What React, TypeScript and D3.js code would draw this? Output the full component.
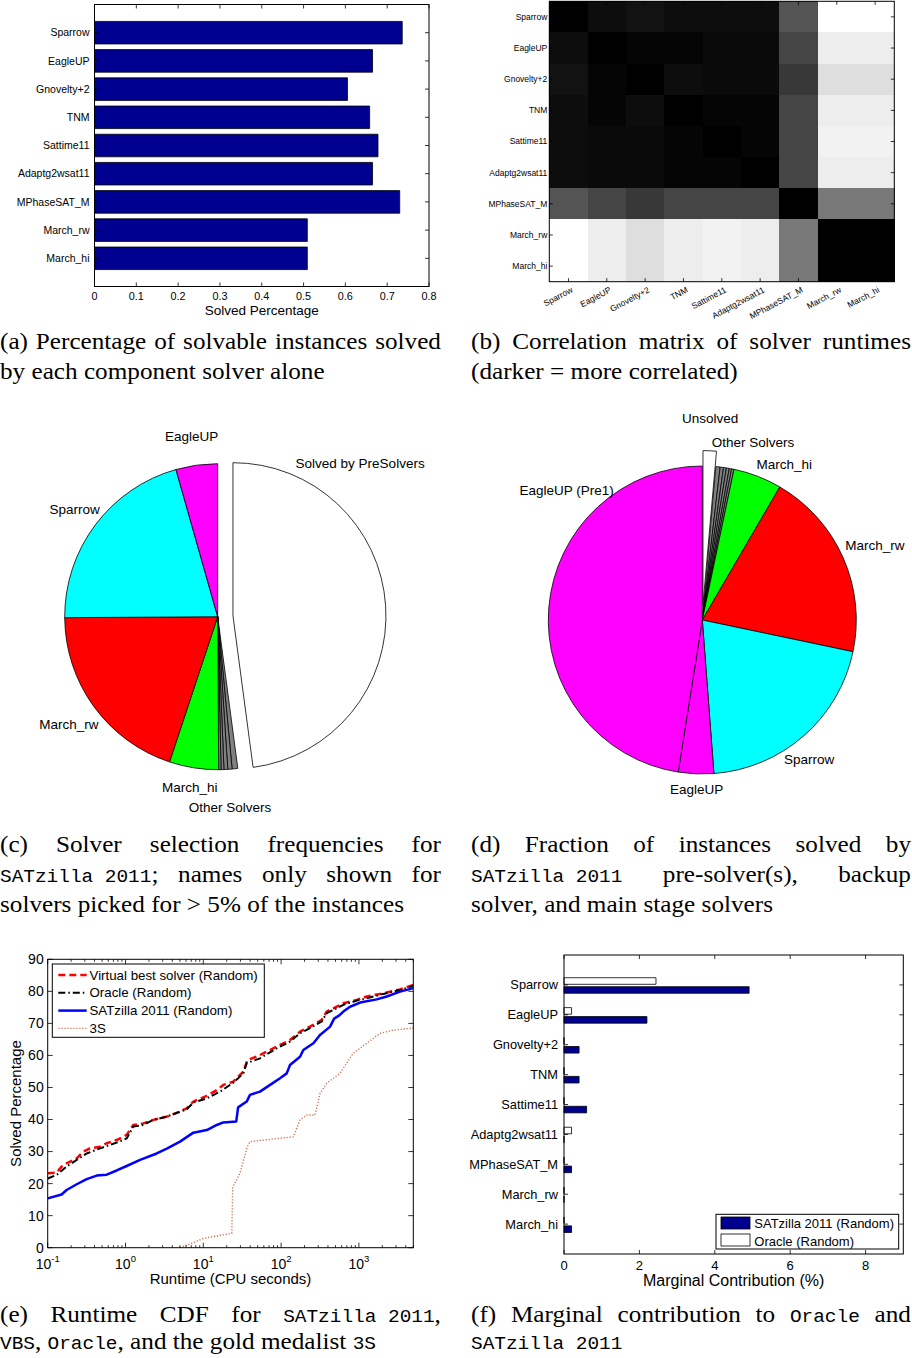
import React from "react";
import * as d3 from "d3";

// ---------------- data ----------------
const solvers = [
  "Sparrow", "EagleUP", "Gnovelty+2", "TNM", "Sattime11",
  "Adaptg2wsat11", "MPhaseSAT_M", "March_rw", "March_hi",
];

// (a) fraction of solvable instances solved by each solver on its own
const soloSolved = [0.736, 0.665, 0.605, 0.658, 0.678, 0.665, 0.73, 0.509, 0.509];
const soloTicks = [0, 0.1, 0.2, 0.3, 0.4, 0.5, 0.6, 0.7, 0.8];

// (b) pairwise correlation of solver runtimes (row/column order = solvers)
const runtimeCorr = [
  [1.0, 0.95, 0.93, 0.95, 0.95, 0.95, 0.67, 0.0, 0.0],
  [0.95, 1.0, 0.98, 0.98, 0.96, 0.96, 0.73, 0.07, 0.07],
  [0.93, 0.98, 1.0, 0.95, 0.96, 0.96, 0.78, 0.13, 0.13],
  [0.95, 0.98, 0.95, 1.0, 0.98, 0.98, 0.73, 0.07, 0.07],
  [0.95, 0.96, 0.96, 0.98, 1.0, 0.98, 0.73, 0.05, 0.05],
  [0.95, 0.96, 0.96, 0.98, 0.98, 1.0, 0.73, 0.07, 0.07],
  [0.67, 0.73, 0.78, 0.73, 0.73, 0.73, 1.0, 0.53, 0.53],
  [0.0, 0.07, 0.13, 0.07, 0.05, 0.07, 0.53, 1.0, 1.0],
  [0.0, 0.07, 0.13, 0.07, 0.05, 0.07, 0.53, 1.0, 1.0],
];

// (c) selection frequencies (% of instances), clockwise from 12 o'clock
const presolvedShare = 47.9;
const otherSharesC = [0.6, 0.45, 0.4, 0.3, 0.25];
const namedSolversC = ["March_hi", "March_rw", "Sparrow", "EagleUP"];
const namedSharesC = [5.2, 19.8, 20.7, 4.4];

// (d) fraction of instances solved by each stage (%), clockwise from 12 o'clock
const unsolvedShare = 1.4;
const otherSharesD = [0.45, 0.35, 0.3, 0.3, 0.25, 0.25];
const namedSolversD = ["March_hi", "March_rw", "Sparrow", "EagleUP", "EagleUP (Pre1)"];
const namedSharesD = [5.1, 19.9, 20.5, 3.7, 47.5];

// (e) runtime CDFs: [runtime (CPU s), solved %]
const vbsCdf: [number, number][] = [
  [0.1, 23.2], [0.13, 23.4], [0.151, 25.3], [0.175, 26.3], [0.236, 27.9], [0.287, 30],
  [0.35, 31], [0.471, 31.5], [0.573, 32.6], [0.77, 33.6], [1.035, 35.2], [1.26, 38.3],
  [1.7, 38.8], [2.28, 39.9], [3.39, 40.9], [5.02, 42.5], [6.12, 43.5], [7.45, 45.6],
  [11.1, 47.4], [14.9, 49.2], [18.1, 50.8], [24.3, 51.8], [29.6, 53.9], [32.7, 54.9],
  [37, 58.6], [48.5, 59.6], [65.3, 61.2], [96.9, 63.3], [130, 64.8], [175, 67.4],
  [235, 69], [333, 71.1], [386, 73.7], [470, 74.7], [631, 76.3], [937, 77.3],
  [1259, 78.4], [2060, 79.4], [3378, 80.6], [5000, 82],
];
const oracleCdf: [number, number][] = [
  [0.1, 21.6], [0.13, 22.7], [0.175, 25.3], [0.236, 27.4], [0.317, 29.4], [0.471, 31],
  [0.77, 32.8], [1.035, 34.1], [1.26, 37.8], [1.7, 38.3], [2.28, 39.9], [3.39, 40.9],
  [6.12, 43.2], [7.45, 45.3], [11.1, 46.6], [16.4, 48.7], [24.3, 51.5], [32.7, 54.4],
  [36.1, 57.6], [53.5, 59.1], [87.7, 62.2], [130, 64.3], [175, 66.9], [235, 68.5],
  [333, 70.6], [386, 73.2], [470, 74.2], [631, 75.8], [937, 77.1], [1259, 77.8],
  [2060, 79.2], [3378, 80.4], [5000, 81.7],
];
const satzillaCdf: [number, number][] = [
  [0.1, 15.4], [0.151, 16.6], [0.175, 18], [0.236, 19.8], [0.317, 21.4], [0.426, 22.5],
  [0.573, 22.8], [0.77, 24.1], [1.035, 25.5], [1.54, 27.4], [2.52, 29.4], [3.39, 30.9],
  [5.02, 33.1], [7.45, 35.9], [11.1, 36.7], [14.9, 38.3], [18.1, 39.1], [26.5, 39.4],
  [28, 43.8], [36.1, 45.6], [39.8, 47.7], [53.5, 48.7], [72.1, 50.8], [96.9, 52.9],
  [118, 54.4], [130, 57], [175, 59.6], [193, 61.7], [260, 63.8], [316, 66.4],
  [426, 69], [480, 71.5], [560, 72.5], [631, 73.7], [769, 75.2], [1035, 76.5],
  [1694, 77.5], [2277, 78.4], [3378, 79.9], [5000, 81],
];
const threeSCdf: [number, number][] = [
  [5.0, 0], [6.75, 1.15], [10, 2.9], [23.2, 4.5], [23.9, 19], [29.6, 23.2],
  [36.8, 31.5], [39.8, 33.1], [143.5, 34.6], [175, 39.9], [214, 41.4], [273, 41.4],
  [317, 48.2], [385, 51.3], [571, 54.4], [847, 60.7], [1259, 63.8], [1866, 66.9],
  [2767, 67.9], [4790, 68.5], [5000, 68.5],
];
const cdfYTicks = [0, 10, 20, 30, 40, 50, 60, 70, 80, 90];
const cdfXExponents = [-1, 0, 1, 2, 3];

// (f) marginal contribution (%)
const marginalSatzilla = [4.91, 2.2, 0.4, 0.4, 0.6, 0, 0.2, 0, 0.2];
const marginalOracle = [2.44, 0.2, 0, 0, 0, 0.2, 0, 0, 0];
const marginalTicks = [0, 2, 4, 6, 8];

// captions (`...` = typewriter)
const captionA = ["(a) Percentage of solvable instances solved", "by each component solver alone"];
const captionB = ["(b) Correlation matrix of solver runtimes", "(darker = more correlated)"];
const captionC = [
  "(c) Solver selection frequencies for",
  "`SATzilla 2011`; names only shown for",
  "solvers picked for > 5% of the instances",
];
const captionD = [
  "(d) Fraction of instances solved by",
  "`SATzilla 2011` pre-solver(s), backup",
  "solver, and main stage solvers",
];
const captionE = [
  "(e) Runtime CDF for `SATzilla 2011`,",
  "`VBS`, `Oracle`, and the gold medalist `3S`",
];
const captionF = ["(f) Marginal contribution to `Oracle` and", "`SATzilla 2011`"];

// ---------------- styling ----------------
const SANS = "'Liberation Sans', Arial, Helvetica, sans-serif";
const SERIF = "'Liberation Serif', 'Times New Roman', serif";
const MONO = "'Liberation Mono', 'DejaVu Sans Mono', monospace";
const SERIF_SIZE = 24;
const MONO_SIZE = 18.5;
const CAPTION_SX = 1.05;
const NAVY = "#000090";
const sliceColors: Record<string, string> = {
  March_hi: "#00ff00",
  March_rw: "#ff0000",
  Sparrow: "#00ffff",
  EagleUP: "#ff00ff",
  "EagleUP (Pre1)": "#ff00ff",
};

// label placement for the pies: [angle clockwise from top (deg), radius factor]
const pieCLabelPos: Record<string, [number, number]> = {
  "Solved by PreSolvers": [42.8, 1.37],
  "Other Solvers": [176.3, 1.25],
  March_hi: [189.3, 1.13],
  March_rw: [234.1, 1.2],
  Sparrow: [306.9, 1.17],
  EagleUP: [351.8, 1.19],
};
const pieDLabelPos: Record<string, [number, number]> = {
  Unsolved: [2.2, 1.31],
  "Other Solvers": [15.9, 1.2],
  March_hi: [27.8, 1.14],
  March_rw: [66.7, 1.22],
  Sparrow: [142.5, 1.14],
  EagleUP: [181.9, 1.1],
  "EagleUP (Pre1)": [313.8, 1.22],
};

// ---------------- helpers ----------------
type Box = { x0: number; x1: number; y0: number; y1: number };

function barPath(xa: number, xb: number, ya: number, yb: number) {
  return `M${xa},${ya}H${xb}V${yb}H${xa}Z`;
}

function Frame({ b }: { b: Box }) {
  return (
    <rect x={b.x0} y={b.y0} width={b.x1 - b.x0} height={b.y1 - b.y0}
      fill="none" stroke="#000" strokeWidth={1} />
  );
}

function XTicks({ b, xs, len = 4 }: { b: Box; xs: number[]; len?: number }) {
  return (
    <g stroke="#000" strokeWidth={0.8}>
      {xs.map((x, i) => (
        <g key={i}>
          <line x1={x} x2={x} y1={b.y1} y2={b.y1 - len} />
          <line x1={x} x2={x} y1={b.y0} y2={b.y0 + len} />
        </g>
      ))}
    </g>
  );
}

function YTicks({ b, ys, len = 4 }: { b: Box; ys: number[]; len?: number }) {
  return (
    <g stroke="#000" strokeWidth={0.8}>
      {ys.map((y, i) => (
        <g key={i}>
          <line x1={b.x0} x2={b.x0 + len} y1={y} y2={y} />
          <line x1={b.x1} x2={b.x1 - len} y1={y} y2={y} />
        </g>
      ))}
    </g>
  );
}

// ---- caption typesetting (justified lines, mixed serif / typewriter) ----
type Run = { t: string; mono: boolean };
function parseLine(line: string): Run[][] {
  const words: Run[][] = [];
  let cur: Run[] = [];
  let buf = "";
  let mono = false;
  const flush = () => {
    if (buf) { cur.push({ t: buf, mono }); buf = ""; }
  };
  for (const ch of line) {
    if (ch === "`") { flush(); mono = !mono; continue; }
    if (ch === " " && !mono) {
      flush();
      if (cur.length) words.push(cur);
      cur = [];
      continue;
    }
    buf += ch;
  }
  flush();
  if (cur.length) words.push(cur);
  return words;
}

let measureCtx: CanvasRenderingContext2D | null = null;
function measure(t: string, mono: boolean) {
  if (!measureCtx) measureCtx = document.createElement("canvas").getContext("2d");
  const ctx = measureCtx!;
  ctx.font = mono ? `${MONO_SIZE}px ${MONO}` : `${SERIF_SIZE}px ${SERIF}`;
  return ctx.measureText(t).width;
}

function Caption({ x, y, width, lines, lineH = 30 }:
  { x: number; y: number; width: number; lines: string[]; lineH?: number }) {
  const inner = width / CAPTION_SX;
  const out: React.ReactNode[] = [];
  lines.forEach((line, li) => {
    const words = parseLine(line);
    const widths = words.map((w) => w.reduce((s, r) => s + measure(r.t, r.mono), 0));
    const total = widths.reduce((a, c) => a + c, 0);
    const sp = measure(" ", false);
    const last = li === lines.length - 1;
    const gap = !last && words.length > 1
      ? Math.max(sp * 0.3, (inner - total) / (words.length - 1))
      : sp;
    let cx = 0;
    words.forEach((w, wi) => {
      out.push(
        <text key={`${li}-${wi}`} x={cx} y={y + li * lineH} fill="#000">
          {w.map((r, ri) => (
            <tspan key={ri} fontFamily={r.mono ? MONO : SERIF}
              fontSize={r.mono ? MONO_SIZE : SERIF_SIZE}>{r.t}</tspan>
          ))}
        </text>
      );
      cx += widths[wi] + gap;
    });
  });
  return <g transform={`translate(${x},0) scale(${CAPTION_SX},1)`}>{out}</g>;
}

// ---------------- panels ----------------
function PanelA() {
  const b: Box = { x0: 94.5, x1: 429, y0: 4.5, y1: 286.5 };
  const x = d3.scaleLinear().domain([0, 0.8]).range([b.x0, b.x1]);
  const y = d3.scaleLinear().domain([0, solvers.length + 1]).range([b.y0, b.y1]);
  const half = 0.4;
  return (
    <g fontFamily={SANS}>
      {solvers.map((s, i) => (
        <path key={s} d={barPath(x(0), x(soloSolved[i]), y(i + 1 - half), y(i + 1 + half))}
          fill={NAVY} stroke="#000" strokeWidth={0.8} />
      ))}
      <XTicks b={b} xs={soloTicks.map((t) => x(t))} />
      <YTicks b={b} ys={solvers.map((_, i) => y(i + 1))} />
      <Frame b={b} />
      {soloTicks.map((t) => (
        <text key={t} x={x(t)} y={300} fontSize={10.8} textAnchor="middle">
          {d3.format("~g")(t)}
        </text>
      ))}
      {solvers.map((s, i) => (
        <text key={s} x={b.x0 - 5} y={y(i + 1)} dy="0.35em" fontSize={10.5} textAnchor="end">{s}</text>
      ))}
      <text x={(b.x0 + b.x1) / 2} y={315} fontSize={13.5} textAnchor="middle">Solved Percentage</text>
    </g>
  );
}

function PanelB() {
  const b: Box = { x0: 549.3, x1: 894.3, y0: 1.3, y1: 281.7 };
  const xb = d3.scaleBand().domain(solvers).range([b.x0, b.x1]);
  const yb = d3.scaleBand().domain(solvers).range([b.y0, b.y1]);
  const shade = d3.scaleLinear<string>().domain([0, 1]).range(["#ffffff", "#000000"]);
  return (
    <g fontFamily={SANS}>
      <g shapeRendering="crispEdges">
        {runtimeCorr.map((row, ri) =>
          row.map((v, ci) => (
            <rect key={`${ri}-${ci}`} x={xb(solvers[ci])!} y={yb(solvers[ri])!}
              width={xb.bandwidth() + 0.6} height={yb.bandwidth() + 0.6} fill={shade(v)} />
          ))
        )}
      </g>
      <XTicks b={b} xs={solvers.map((s) => xb(s)! + xb.bandwidth() / 2)} len={3.5} />
      <YTicks b={b} ys={solvers.map((s) => yb(s)! + yb.bandwidth() / 2)} len={3.5} />
      <Frame b={b} />
      {solvers.map((s) => (
        <text key={s} x={b.x0 - 2} y={yb(s)! + yb.bandwidth() / 2} dy="0.35em"
          fontSize={8.5} textAnchor="end">{s}</text>
      ))}
      {solvers.map((s) => (
        <text key={s} fontSize={8.5} textAnchor="end"
          transform={`translate(${xb(s)! + xb.bandwidth() / 2 + 5},${b.y1 + 10}) rotate(-28)`}>{s}</text>
      ))}
    </g>
  );
}

type Slice = { value: number; color: string; explode?: boolean };

function Pie({ cx, cy, r, slices, labelPos }:
  { cx: number; cy: number; r: number; slices: Slice[]; labelPos: Record<string, [number, number]> }) {
  const arcs = d3.pie<Slice>().sort(null).value((d) => d.value)(slices);
  const arc = d3.arc<d3.PieArcDatum<Slice>>().innerRadius(0).outerRadius(r);
  return (
    <g transform={`translate(${cx},${cy})`} fontFamily={SANS}>
      {arcs.map((a, i) => {
        const mid = (a.startAngle + a.endAngle) / 2;
        const off = a.data.explode ? 0.1 * r : 0;
        return (
          <path key={i} d={arc(a) || ""} fill={a.data.color} stroke="#000" strokeWidth={0.8}
            strokeLinejoin="round"
            transform={`translate(${off * Math.sin(mid)},${-off * Math.cos(mid)})`} />
        );
      })}
      {Object.entries(labelPos).map(([name, [deg, f]]) => {
        const th = (deg * Math.PI) / 180;
        return (
          <text key={name} x={f * r * Math.sin(th)} y={-f * r * Math.cos(th)} dy="0.35em"
            fontSize={13.5} textAnchor="middle">{name}</text>
        );
      })}
    </g>
  );
}

function PanelC() {
  const slices: Slice[] = [
    { value: presolvedShare, color: "#ffffff", explode: true },
    ...otherSharesC.map((v) => ({ value: v, color: "#808080" })),
    ...namedSolversC.map((n, i) => ({ value: namedSharesC[i], color: sliceColors[n] })),
  ];
  return <Pie cx={217.7} cy={616.7} r={153} slices={slices} labelPos={pieCLabelPos} />;
}

function PanelD() {
  const slices: Slice[] = [
    { value: unsolvedShare, color: "#ffffff", explode: true },
    ...otherSharesD.map((v) => ({ value: v, color: "#808080" })),
    ...namedSolversD.map((n, i) => ({ value: namedSharesD[i], color: sliceColors[n] })),
  ];
  return <Pie cx={702.3} cy={620} r={154} slices={slices} labelPos={pieDLabelPos} />;
}

function PanelE() {
  const b: Box = { x0: 47.7, x1: 413.3, y0: 959.3, y1: 1247.7 };
  const x = d3.scaleLog().domain([0.1, 5000]).range([b.x0, b.x1]);
  const y = d3.scaleLinear().domain([0, 90]).range([b.y1, b.y0]);
  const line = d3.line<[number, number]>().x((d) => x(d[0])).y((d) => y(d[1]));
  const minor: number[] = [];
  cdfXExponents.forEach((e) => {
    for (let m = 2; m <= 9; m++) {
      const v = m * Math.pow(10, e);
      if (v <= 5000) minor.push(x(v));
    }
  });
  const series = [
    { name: "Virtual best solver (Random)", data: vbsCdf, color: "#ff0000", w: 2.5, dash: "7,4" },
    { name: "Oracle (Random)", data: oracleCdf, color: "#000000", w: 2, dash: "7,3,1.5,3" },
    { name: "SATzilla 2011 (Random)", data: satzillaCdf, color: "#0000ff", w: 2.5, dash: undefined },
    { name: "3S", data: threeSCdf, color: "#c9704f", w: 1.4, dash: "1.2,1.8" },
  ];
  return (
    <g fontFamily={SANS}>
      <defs>
        <clipPath id="cdfClip">
          <rect x={b.x0} y={b.y0 - 2} width={b.x1 - b.x0} height={b.y1 - b.y0 + 2} />
        </clipPath>
      </defs>
      <g clipPath="url(#cdfClip)">
        {series.map((s) => (
          <path key={s.name} d={line(s.data) || ""} fill="none" stroke={s.color}
            strokeWidth={s.w} strokeDasharray={s.dash} strokeLinejoin="round" />
        ))}
      </g>
      <XTicks b={b} xs={cdfXExponents.map((e) => x(Math.pow(10, e)))} len={5} />
      <XTicks b={b} xs={minor} len={2.5} />
      <YTicks b={b} ys={cdfYTicks.map((t) => y(t))} len={5} />
      <Frame b={b} />
      {cdfYTicks.map((t) => (
        <text key={t} x={b.x0 - 4} y={y(t)} dy="0.35em" fontSize={14} textAnchor="end">{t}</text>
      ))}
      {cdfXExponents.map((e) => (
        <text key={e} x={x(Math.pow(10, e))} y={1268.5} fontSize={14} textAnchor="middle">
          10<tspan fontSize={9.5} dy={-7}>{e}</tspan>
        </text>
      ))}
      <text x={(b.x0 + b.x1) / 2} y={1284} fontSize={15} textAnchor="middle">Runtime (CPU seconds)</text>
      <text transform={`translate(16,${(b.y0 + b.y1) / 2}) rotate(-90)`} dy="0.35em"
        fontSize={15} textAnchor="middle">Solved Percentage</text>
      <g>
        <rect x={52.3} y={964} width={212} height={73.3} fill="#fff" stroke="#000" strokeWidth={1} />
        {series.map((s, i) => {
          const ly = 975 + i * 17.8;
          return (
            <g key={s.name}>
              <line x1={58.3} x2={86.7} y1={ly} y2={ly} stroke={s.color}
                strokeWidth={s.w} strokeDasharray={s.dash} />
              <text x={89.5} y={ly} dy="0.35em" fontSize={13.3}>{s.name}</text>
            </g>
          );
        })}
      </g>
    </g>
  );
}

function PanelF() {
  const b: Box = { x0: 564, x1: 903.3, y0: 955, y1: 1254 };
  const x = d3.scaleLinear().domain([0, 9]).range([b.x0, b.x1]);
  const y = d3.scaleLinear().domain([0, solvers.length + 1]).range([b.y0, b.y1]);
  const th = 0.22;
  const offO = -0.13;
  const offS = 0.17;
  return (
    <g fontFamily={SANS}>
      {solvers.map((s, i) => (
        <g key={s}>
          <path d={barPath(x(0), x(marginalOracle[i]), y(i + 1 + offO - th / 2), y(i + 1 + offO + th / 2))}
            fill="#fff" stroke="#000" strokeWidth={0.8} />
          <path d={barPath(x(0), x(marginalSatzilla[i]), y(i + 1 + offS - th / 2), y(i + 1 + offS + th / 2))}
            fill={NAVY} stroke="#000" strokeWidth={0.8} />
        </g>
      ))}
      <XTicks b={b} xs={marginalTicks.map((t) => x(t))} len={4} />
      <YTicks b={b} ys={solvers.map((_, i) => y(i + 1))} len={4} />
      <Frame b={b} />
      {marginalTicks.map((t) => (
        <text key={t} x={x(t)} y={1270} fontSize={13} textAnchor="middle">{t}</text>
      ))}
      {solvers.map((s, i) => (
        <text key={s} x={b.x0 - 6} y={y(i + 1)} dy="0.35em" fontSize={12.8} textAnchor="end">{s}</text>
      ))}
      <text x={(b.x0 + b.x1) / 2} y={1286} fontSize={16} textAnchor="middle">Marginal Contribution (%)</text>
      <g>
        <rect x={716} y={1214.3} width={182.7} height={34.7} fill="#fff" stroke="#000" strokeWidth={1} />
        <rect x={721} y={1217} width={29} height={12} fill={NAVY} stroke="#000" strokeWidth={0.8} />
        <text x={754.3} y={1223.5} dy="0.35em" fontSize={13}>SATzilla 2011 (Random)</text>
        <rect x={721} y={1234} width={29} height={12} fill="#fff" stroke="#000" strokeWidth={0.8} />
        <text x={754.3} y={1241.5} dy="0.35em" fontSize={13}>Oracle (Random)</text>
      </g>
    </g>
  );
}

export default function App() {
  return (
    <svg width={912} height={1358} viewBox="0 0 912 1358"
      style={{ position: "absolute", left: 0, top: 0, background: "#fff" }}>
      <rect width={912} height={1358} fill="#fff" />
      <PanelA />
      <PanelB />
      <PanelC />
      <PanelD />
      <PanelE />
      <PanelF />
      <Caption x={0} y={349} width={441} lines={captionA} />
      <Caption x={471} y={349} width={440} lines={captionB} />
      <Caption x={0} y={852} width={441} lines={captionC} />
      <Caption x={471} y={852} width={440} lines={captionD} />
      <Caption x={0} y={1322} width={441} lines={captionE} lineH={27.5} />
      <Caption x={471} y={1322} width={440} lines={captionF} lineH={27.5} />
    </svg>
  );
}
